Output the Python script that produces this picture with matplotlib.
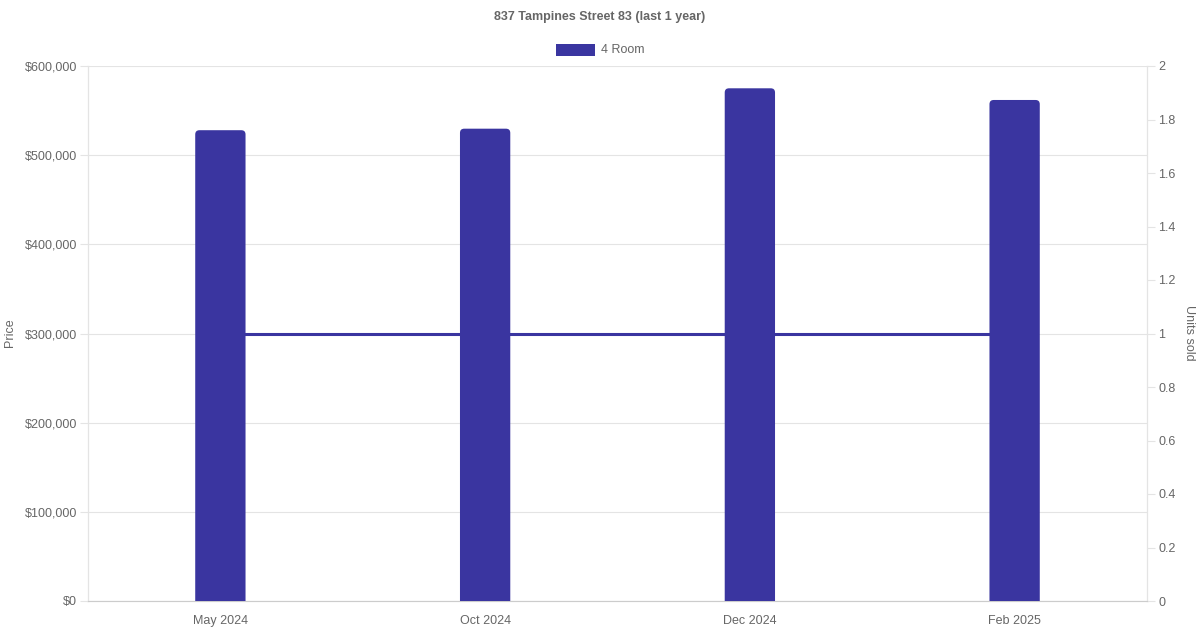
import matplotlib
matplotlib.use("Agg")
import matplotlib.pyplot as plt
from matplotlib.ticker import FuncFormatter
from matplotlib.patches import FancyBboxPatch

plt.rcParams['font.family'] = ['Liberation Sans', 'DejaVu Sans']

months = ['May 2024', 'Oct 2024', 'Dec 2024', 'Feb 2025']
price = [528000, 529700, 575000, 561900]
units = [1, 1, 1, 1]

bar_col = '#3a35a0'
txt = '#666666'
grid = '#e4e4e4'

fig = plt.figure(figsize=(12, 6.3), dpi=100)
ax = fig.add_axes([88/1200, 29/630, 1059/1200, 535/630])
ax2 = ax.twinx()
ax.set_zorder(ax2.get_zorder() + 1)
ax.patch.set_visible(False)

ax.set_xlim(-0.5, 3.5)
ax.set_ylim(0, 600000)
ax2.set_ylim(0, 2)

x = list(range(len(months)))
bw = 0.19
# px per data unit, so the rounded corners come out round
px_x = 1059 / 4
px_y = 535 / 600000
below = 20000  # start under the x axis so only the top corners show rounded
for xi, v in zip(x, price):
    p = FancyBboxPatch((xi - bw/2, -below), bw, v + below,
                       boxstyle="round,pad=0,rounding_size=0.016",
                       mutation_aspect=px_x / px_y,
                       fc=bar_col, lw=0, zorder=3)
    ax.add_patch(p)

# units line drawn in the price axes (behind bars) using the right-axis scale
ax.plot(x, units, color=bar_col, lw=2.2, zorder=2, transform=ax2.transData)

ax.set_yticks(range(0, 600001, 100000))
ax.yaxis.set_major_formatter(FuncFormatter(lambda v, p: '${:,.0f}'.format(v)))
ax2.set_yticks([i / 5 for i in range(11)])
ax2.yaxis.set_major_formatter(FuncFormatter(lambda v, p: '%g' % v))
ax.set_xticks(x)
ax.set_xticklabels(months)

ax.grid(axis='y', color=grid, lw=0.8)
ax.set_axisbelow(True)
for a in (ax, ax2):
    for s in a.spines.values():
        s.set_color(grid)
    a.spines['top'].set_visible(False)
ax.spines['bottom'].set_color('#cccccc')
ax.tick_params(axis='y', length=5.8, width=0.8, color=grid, pad=2.2, labelsize=9, labelcolor=txt)
ax.tick_params(axis='x', length=0, pad=10, labelsize=9, labelcolor=txt)
ax2.tick_params(axis='y', length=5.8, width=0.8, color=grid, pad=2.2, labelsize=9, labelcolor=txt)

fig.text(10/1200, 1 - 333/630, 'Price', rotation=90, ha='center', va='center',
         fontsize=9, color=txt)
fig.text(1189/1200, 1 - 333/630, 'Units sold', rotation=270, ha='center', va='center',
         fontsize=9, color=txt)

fig.text(0.5, 1 - 17/630, '837 Tampines Street 83 (last 1 year)', ha='center', va='center',
         fontsize=9, fontweight='bold', color=txt)
fig.patches.append(plt.Rectangle((556/1200, 1 - 56/630), 39/1200, 12/630,
                                 transform=fig.transFigure, fc=bar_col, lw=0))
fig.text(601/1200, 1 - 50/630, '4 Room', ha='left', va='center', fontsize=9, color=txt)

fig.savefig('out.png', dpi=100)
